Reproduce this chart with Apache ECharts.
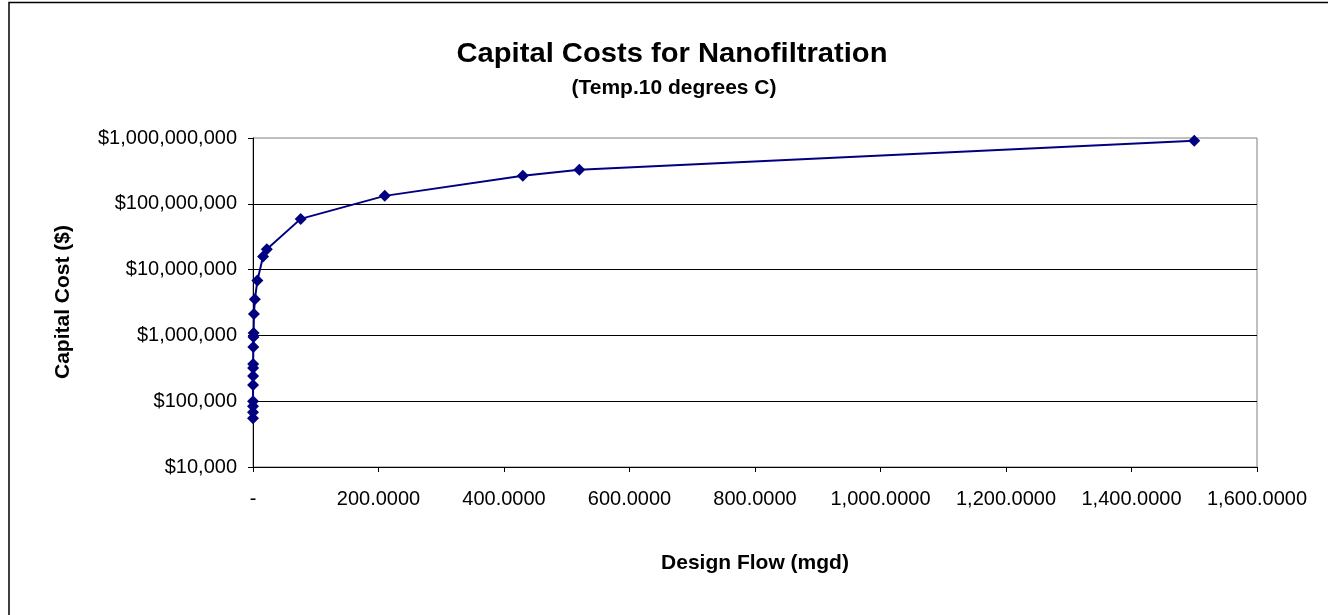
<!DOCTYPE html>
<html>
<head>
<meta charset="utf-8">
<script src="https://cdn.jsdelivr.net/npm/echarts@6/dist/echarts.min.js"></script>
<style>
  html, body { margin: 0; padding: 0; background: #fff; }
  #chart { width: 1328px; height: 615px; }
</style>
</head>
<body>
<div id="chart"></div>
<script>
// Design flow (mgd) and matching capital cost ($)
const flowMgd = [0.01, 0.02, 0.03, 0.05, 0.1, 0.15, 0.2, 0.25, 0.5, 0.75, 1.0, 1.5, 3.0, 7.0, 16, 22, 76, 210, 430, 520, 1500];
const capitalCost = [55000, 68000, 84000, 100000, 176000, 241000, 319000, 367000, 665000, 946000, 1090000, 2120000, 3550000, 6800000, 15800000, 20400000, 59000000, 132000000, 267000000, 330000000, 910000000];

const titleText = 'Capital Costs for Nanofiltration';
const subtitleText = '(Temp.10 degrees C)';
const xAxisTitle = 'Design Flow (mgd)';
const yAxisTitle = 'Capital Cost ($)';

const font = '"Liberation Sans", Arial, sans-serif';

const points = flowMgd.map((f, i) => [f, capitalCost[i]]);

const chart = echarts.init(document.getElementById('chart'), null, { renderer: 'canvas' });

chart.setOption({
  animation: false,
  backgroundColor: '#fff',
  graphic: [
    {
      type: 'rect',
      shape: { x: 9, y: 2.5, width: 1400, height: 700 },
      style: { fill: 'none', stroke: '#000', lineWidth: 1.5 },
      silent: true
    },
    {
      type: 'text',
      x: 672, y: 55, scaleX: 1.08,
      style: { text: titleText, x: 0, y: 0, font: 'bold 27px ' + font, fill: '#000', textAlign: 'center', textVerticalAlign: 'middle' }
    },
    {
      type: 'text',
      x: 674, y: 88,
      style: { text: subtitleText, x: 0, y: 0, font: 'bold 21px ' + font, fill: '#000', textAlign: 'center', textVerticalAlign: 'middle' }
    },
    {
      type: 'text',
      x: 755, y: 563,
      style: { text: xAxisTitle, x: 0, y: 0, font: 'bold 21px ' + font, fill: '#000', textAlign: 'center', textVerticalAlign: 'middle' }
    },
    {
      type: 'text',
      rotation: Math.PI / 2,
      x: 63, y: 302,
      style: { text: yAxisTitle, x: 0, y: 0, font: 'bold 21px ' + font, fill: '#000', textAlign: 'center', textVerticalAlign: 'middle' }
    }
  ],
  grid: {
    left: 253, top: 138, right: 71, bottom: 148,
    show: true, borderColor: '#808080', borderWidth: 1, backgroundColor: '#fff'
  },
  xAxis: {
    type: 'value',
    min: 0, max: 1600, interval: 200,
    axisLine: { show: true, onZero: false, lineStyle: { color: '#000', width: 1 } },
    axisTick: { show: true, length: 5, lineStyle: { color: '#000' } },
    splitLine: { show: false },
    axisLabel: {
      color: '#000', fontFamily: font, fontSize: 20, margin: 22,
      formatter: v => v === 0 ? '-' : v.toLocaleString('en-US', { minimumFractionDigits: 4, maximumFractionDigits: 4 })
    }
  },
  yAxis: {
    type: 'log', logBase: 10,
    min: 10000, max: 1000000000,
    axisLine: { show: true, lineStyle: { color: '#000', width: 1 } },
    axisTick: { show: true, length: 5, lineStyle: { color: '#000' } },
    splitLine: { show: true, showMinLine: false, showMaxLine: false, lineStyle: { color: '#000', width: 1 } },
    minorTick: { show: false },
    axisLabel: {
      color: '#000', fontFamily: font, fontSize: 20, margin: 16,
      formatter: v => '$' + Math.round(v).toLocaleString('en-US')
    }
  },
  series: [{
    type: 'line',
    data: points,
    symbol: 'diamond',
    symbolSize: 12,
    showAllSymbol: true,
    lineStyle: { color: '#000080', width: 2 },
    itemStyle: { color: '#000080' },
    clip: false
  }]
});
</script>
</body>
</html>
